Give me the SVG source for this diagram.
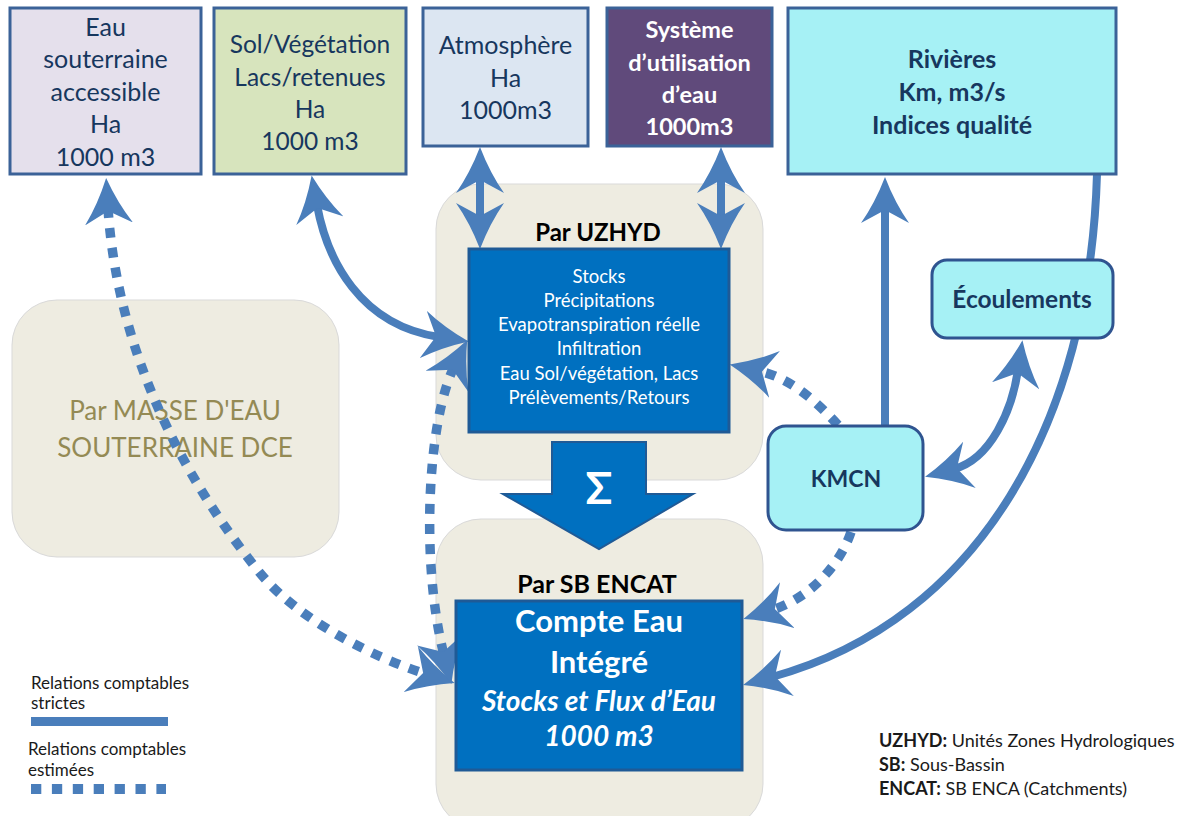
<svg xmlns="http://www.w3.org/2000/svg" width="1186" height="816" viewBox="0 0 1186 816">
<defs>
<style>
.bg{fill:#eeece1;stroke:#d9d9d9;stroke-width:1}
.top{stroke:#3b6298;stroke-width:3}
.t{font-family:Lato,"Open Sans","Liberation Sans",sans-serif;text-anchor:middle}
.tb{font-weight:bold}
.navy{fill:#17375e}
.w{fill:#ffffff}
.con{fill:none;stroke:#4a7ebb;stroke-width:8}
.dot{fill:none;stroke:#4a7ebb;stroke-width:9.5;stroke-dasharray:10 10}
.cyan{fill:#a6f1f5;stroke:#2f5490;stroke-width:3}
.blue{fill:#0070c0;stroke:#1f5a96;stroke-width:3}
.leg{font-family:Lato,"Open Sans","Liberation Sans",sans-serif;fill:#1a1a1a}
</style>
<marker id="ah" viewBox="0 0 46 48" markerWidth="46" markerHeight="48" markerUnits="userSpaceOnUse" refX="16" refY="24" orient="auto-start-reverse">
<path d="M0,0 Q20,14 46,24 Q20,34 0,48 L13,24 Z" fill="#4a7ebb"/>
</marker>
</defs>
<rect width="1186" height="816" fill="#ffffff"/>

<g id="masse">
<rect class="bg" x="12" y="300" width="327" height="257" rx="45"/>
<text class="t" x="175" y="420" font-size="26" fill="#948a54">Par MASSE D'EAU</text>
<text class="t" x="175" y="457" font-size="26" fill="#948a54">SOUTERRAINE DCE</text>
</g>
<g id="uzhyd-zone">
<rect class="bg" x="436" y="184" width="327" height="296" rx="45"/>
<text class="t tb" x="598" y="241" font-size="24" fill="#000000">Par UZHYD</text>
</g>
<g id="sb-zone">
<rect class="bg" x="436" y="519" width="327" height="310" rx="45"/>
<text class="t tb" x="597" y="593" font-size="25" fill="#000000">Par SB ENCAT</text>
</g>

<g id="connectors">
<path class="con" d="M480,177 L480,219" marker-start="url(#ah)" marker-end="url(#ah)"/>
<path class="con" d="M721,177 L721,219" marker-start="url(#ah)" marker-end="url(#ah)"/>
<path class="con" d="M317,205 C327,260 360,325 439,337" marker-start="url(#ah)" marker-end="url(#ah)"/>
<path class="con" d="M885,426 L885,207" marker-end="url(#ah)"/>
<path class="con" d="M1097,174 C1090,420 980,620 772,677" marker-end="url(#ah)"/>
<path class="con" d="M1018,370 C1012,410 991,459 954,469" marker-start="url(#ah)" marker-end="url(#ah)"/>
<path class="dot" d="M838,425 C815,400 790,378 759,371" marker-end="url(#ah)"/>
<path class="dot" d="M851,532 C840,565 810,598 772,610" marker-end="url(#ah)"/>
<path class="dot" d="M108,208 C115,320 160,450 260,573 C300,622 378,659 426,674" marker-start="url(#ah)" marker-end="url(#ah)"/>
<path class="dot" d="M454,367 C428,420 420,560 444,655" marker-start="url(#ah)" marker-end="url(#ah)"/>
</g>

<g id="eau-souterraine">
<rect class="top" x="10" y="8" width="191" height="166" fill="#e5e0ec"/>
<text class="t navy" font-size="25"><tspan x="105.5" y="36">Eau</tspan><tspan x="105.5" y="68">souterraine</tspan><tspan x="105.5" y="101">accessible</tspan><tspan x="105.5" y="133">Ha</tspan><tspan x="105.5" y="166">1000 m3</tspan></text>
</g>
<g id="sol-vegetation">
<rect class="top" x="214" y="8" width="192" height="166" fill="#d7e4bd"/>
<text class="t navy" font-size="24.5"><tspan x="310" y="53">Sol/Végétation</tspan><tspan x="310" y="86">Lacs/retenues</tspan><tspan x="310" y="118">Ha</tspan><tspan x="310" y="150">1000 m3</tspan></text>
</g>
<g id="atmosphere">
<rect class="top" x="423" y="8" width="165" height="138" fill="#dce6f2"/>
<text class="t navy" font-size="25"><tspan x="505.5" y="54">Atmosphère</tspan><tspan x="505.5" y="87">Ha</tspan><tspan x="505.5" y="119">1000m3</tspan></text>
</g>
<g id="systeme">
<rect class="top" x="607" y="8" width="165" height="138" fill="#604a7b"/>
<text class="t tb w" font-size="23.5"><tspan x="689.5" y="38">Système</tspan><tspan x="689.5" y="71">d’utilisation</tspan><tspan x="689.5" y="103">d’eau</tspan><tspan x="689.5" y="135">1000m3</tspan></text>
</g>
<g id="rivieres">
<rect class="top" x="788" y="8" width="328" height="166" fill="#a6f1f5"/>
<text class="t tb navy" font-size="25"><tspan x="952" y="68">Rivières</tspan><tspan x="952" y="101">Km, m3/s</tspan><tspan x="952" y="134">Indices qualité</tspan></text>
</g>
<g id="uzhyd">
<rect class="blue" x="469" y="249" width="260" height="183"/>
<text class="t w" font-size="18.5"><tspan x="599" y="283">Stocks</tspan><tspan x="599" y="307">Précipitations</tspan><tspan x="599" y="331">Evapotranspiration réelle</tspan><tspan x="599" y="355">Infiltration</tspan><tspan x="599" y="380">Eau Sol/végétation, Lacs</tspan><tspan x="599" y="404">Prélèvements/Retours</tspan></text>
</g>
<g id="sigma">
<path d="M552,442 L646,442 L646,494 L693,494 L599,549 L503,494 L552,494 Z" fill="#0070c0" stroke="#1f5a96" stroke-width="2"/>
<text class="t tb w" x="599" y="504" font-size="44">Σ</text>
</g>
<g id="compte-eau">
<rect class="blue" x="456" y="601" width="286" height="169"/>
<text class="t tb w" font-size="31"><tspan x="599" y="632">Compte Eau</tspan><tspan x="599" y="673">Intégré</tspan></text>
<text class="t tb w" font-size="28" font-style="italic"><tspan x="599" y="711">Stocks et Flux d’Eau</tspan><tspan x="599" y="746">1000 m3</tspan></text>
</g>
<g id="kmcn">
<rect class="cyan" x="768" y="426" width="155" height="104" rx="18"/>
<text class="t tb navy" x="846" y="487" font-size="23">KMCN</text>
</g>
<g id="ecoulements">
<rect class="cyan" x="932" y="260" width="181" height="78" rx="15"/>
<text class="t tb navy" x="1022" y="308" font-size="24.5">Écoulements</text>
</g>

<g id="legend">
<text class="leg" x="31" y="689" font-size="17">Relations comptables</text>
<text class="leg" x="31" y="709" font-size="17">strictes</text>
<rect x="31" y="717" width="137" height="9" fill="#4a7ebb"/>
<text class="leg" x="28" y="755" font-size="17">Relations comptables</text>
<text class="leg" x="28" y="776" font-size="17">estimées</text>
<path d="M31,789 L166,789" stroke="#4a7ebb" stroke-width="10" stroke-dasharray="10.3 10.6"/>
</g>
<g id="abbreviations">
<text class="leg" x="879" y="747" font-size="18"><tspan font-weight="bold">UZHYD:</tspan> Unités Zones Hydrologiques</text>
<text class="leg" x="879" y="771" font-size="18"><tspan font-weight="bold">SB:</tspan> Sous-Bassin</text>
<text class="leg" x="879" y="795" font-size="18"><tspan font-weight="bold">ENCAT:</tspan> SB ENCA (Catchments)</text>
</g>
</svg>
